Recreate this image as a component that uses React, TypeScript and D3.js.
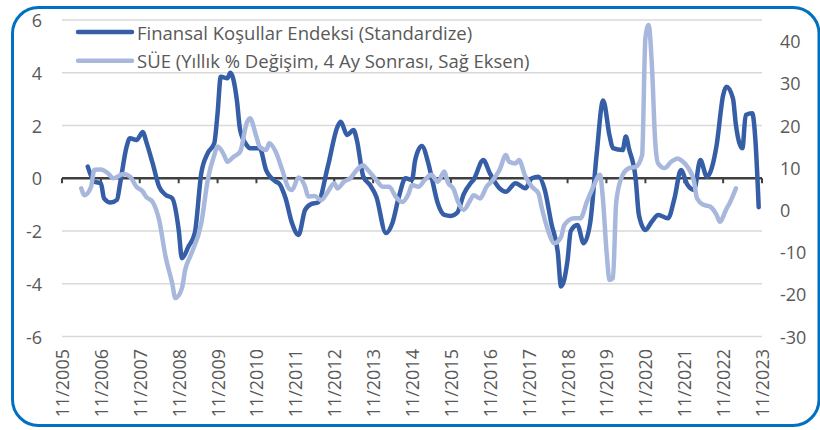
import React from "react";
import * as d3 from "d3";

// Finansal Koşullar Endeksi (left axis), monthly readings
const fkeDates = [
  "2006-07", "2006-09", "2006-11", "2006-12", "2007-02", "2007-04", "2007-05", "2007-07", "2007-08", "2007-10",
  "2007-12", "2008-01", "2008-03", "2008-05", "2008-07", "2008-09", "2008-11", "2008-12", "2009-02", "2009-04",
  "2009-06", "2009-08", "2009-10", "2009-11", "2009-12", "2010-02", "2010-03", "2010-05", "2010-06", "2010-08",
  "2010-09", "2010-12", "2011-02", "2011-03", "2011-05", "2011-06", "2011-08", "2011-10", "2011-12", "2012-02",
  "2012-04", "2012-06", "2012-09", "2012-12", "2013-01", "2013-03", "2013-05", "2013-06", "2013-08", "2013-10",
  "2013-12", "2014-03", "2014-05", "2014-07", "2014-09", "2014-11", "2014-12", "2015-02", "2015-04", "2015-05",
  "2015-07", "2015-09", "2015-11", "2016-01", "2016-03", "2016-05", "2016-06", "2016-09", "2016-11", "2017-02",
  "2017-04", "2017-07", "2017-10", "2017-12", "2018-02", "2018-04", "2018-06", "2018-08", "2018-09", "2018-11",
  "2018-12", "2019-02", "2019-04", "2019-06", "2019-08", "2019-10", "2019-12", "2020-01", "2020-04", "2020-05",
  "2020-06", "2020-08", "2020-09", "2020-11", "2021-01", "2021-03", "2021-06", "2021-08", "2021-10", "2021-12",
  "2022-02", "2022-04", "2022-06", "2022-09", "2022-11", "2022-12", "2023-02", "2023-03", "2023-05", "2023-06",
  "2023-08", "2023-09", "2023-10",
];
const fkeValues = [
  0.44, -0.13, -0.19, -0.76, -0.92, -0.82, -0.19, 1.2, 1.52, 1.45,
  1.75, 1.39, 0.57, -0.32, -0.63, -0.76, -1.96, -3.03, -2.59, -2.08,
  0.19, 0.95, 1.33, 2.46, 3.85, 3.79, 4.0, 2.97, 1.83, 1.26,
  1.14, 1.14, 0.3, 0.1, -0.13, -0.19, -0.75, -1.7, -2.15, -1.2,
  -0.97, -0.92, 0.44, 1.95, 2.14, 1.64, 1.83, 1.45, 0.06, -0.25,
  -0.7, -2.08, -1.7, -0.7, 0.0, -0.06, 0.69, 1.22, 0.6, 0.1,
  -0.95, -1.39, -1.43, -1.3, -0.6, -0.2, -0.06, 0.69, 0.19, -0.38,
  -0.51, -0.19, -0.38, 0.0, 0.06, -0.44, -1.7, -2.8, -4.1, -3.1,
  -2.0, -1.77, -2.46, -1.7, 0.9, 2.95, 1.6, 1.14, 1.07, 1.58,
  1.1, 0.0, -1.39, -1.96, -1.64, -1.39, -1.52, -0.76, 0.31, -0.25,
  -0.44, 0.69, 0.06, 1.26, 3.15, 3.47, 3.03, 2.02, 1.14, 2.4,
  2.46, 1.39, -1.1,
];

// SÜE yıllık % değişim, 4 ay sonrası (right axis)
const sueDates = [
  "2006-05", "2006-06", "2006-08", "2006-09", "2006-11", "2007-01", "2007-03", "2007-06", "2007-08", "2007-10",
  "2007-12", "2008-01", "2008-03", "2008-05", "2008-07", "2008-09", "2008-10", "2008-12", "2009-01", "2009-03",
  "2009-06", "2009-08", "2009-10", "2009-11", "2010-01", "2010-02", "2010-04", "2010-06", "2010-08", "2010-09",
  "2010-11", "2010-12", "2011-02", "2011-03", "2011-05", "2011-07", "2011-09", "2011-10", "2011-12", "2012-02",
  "2012-03", "2012-05", "2012-07", "2012-09", "2012-11", "2012-12", "2013-02", "2013-04", "2013-06", "2013-08",
  "2013-09", "2013-12", "2014-02", "2014-04", "2014-06", "2014-08", "2014-10", "2014-11", "2015-01", "2015-03",
  "2015-05", "2015-07", "2015-09", "2015-10", "2015-12", "2016-01", "2016-03", "2016-05", "2016-06", "2016-08",
  "2016-10", "2016-12", "2017-02", "2017-04", "2017-05", "2017-07", "2017-08", "2017-10", "2017-12", "2018-02",
  "2018-03", "2018-05", "2018-07", "2018-09", "2018-10", "2019-01", "2019-03", "2019-05", "2019-07", "2019-09",
  "2019-10", "2019-11", "2019-12", "2020-01", "2020-02", "2020-04", "2020-06", "2020-08", "2020-10", "2020-11",
  "2020-12", "2021-01", "2021-02", "2021-03", "2021-05", "2021-07", "2021-09", "2021-10", "2021-12", "2022-02",
  "2022-03", "2022-05", "2022-07", "2022-09", "2022-10", "2022-12", "2023-01", "2023-03",
];
const sueValues = [
  5.1, 3.5, 5.5, 9.5, 9.6, 8.8, 7.5, 8.5, 7.9, 5.5,
  4.3, 3.1, 1.9, -2.4, -11.1, -17.4, -20.9, -18.6, -14.2, -10.3,
  -3.2, 7.1, 13.0, 15.0, 13.0, 11.4, 12.6, 13.8, 20.5, 21.7,
  17.3, 15.0, 14.2, 15.8, 13.8, 9.5, 5.1, 4.7, 7.7, 5.5,
  3.2, 3.3, 2.3, 4.3, 6.3, 5.1, 6.7, 7.5, 9.5, 10.6,
  9.8, 7.1, 5.5, 5.5, 3.1, 1.9, 3.9, 5.9, 5.5, 7.1,
  8.3, 6.7, 9.1, 6.7, 4.7, 2.3, 0.0, 2.3, 3.5, 2.7,
  5.5, 7.1, 9.5, 13.0, 11.4, 11.0, 11.8, 7.9, 5.5, 3.9,
  0.8, -4.8, -7.9, -6.4, -3.6, -2.0, -2.0, 1.9, 5.5, 8.3,
  2.0, -9.5, -16.6, -16.2, 1.9, 8.3, 9.9, 10.2, 13.0, 40.7,
  43.8, 34.3, 16.2, 11.0, 9.9, 11.4, 12.2, 11.8, 10.2, 6.7,
  2.7, 1.2, 0.8, -1.2, -2.8, 0.2, 1.6, 5.1,
];

const xTickLabels = [
  "11/2005", "11/2006", "11/2007", "11/2008", "11/2009", "11/2010", "11/2011", "11/2012", "11/2013", "11/2014",
  "11/2015", "11/2016", "11/2017", "11/2018", "11/2019", "11/2020", "11/2021", "11/2022", "11/2023",
];
const leftTicks = [-6, -4, -2, 0, 2, 4, 6];
const rightTicks = [-30, -20, -10, 0, 10, 20, 30, 40];
const legendLabels = [
  "Finansal Koşullar Endeksi (Standardize)",
  "SÜE (Yıllık % Değişim, 4 Ay Sonrası, Sağ Eksen)",
];

const DARK = "#355EA6";
const LIGHT = "#A8B8DD";
const TEXT = "#595959";
const FONT = "'Open Sans', sans-serif";

export default function App() {
  const width = 820;
  const height = 430;
  const m = { left: 62, right: 762, top: 20, bottom: 336.5 };

  const parse = d3.timeParse("%Y-%m");
  const parseTick = d3.timeParse("%m/%Y");

  const x = d3
    .scaleTime()
    .domain([new Date(2005, 10, 1), new Date(2023, 10, 1)])
    .range([m.left, m.right]);
  const yL = d3.scaleLinear().domain([-6, 6]).range([m.bottom, m.top]);
  const yR = d3.scaleLinear().domain([-30, 45]).range([m.bottom, m.top]);

  const fke = fkeDates.map((d, i) => ({ date: parse(d) as Date, value: fkeValues[i] }));
  const sue = sueDates.map((d, i) => ({ date: parse(d) as Date, value: sueValues[i] }));

  const lineL = d3
    .line<{ date: Date; value: number }>()
    .x((d) => x(d.date))
    .y((d) => yL(d.value))
    .curve(d3.curveMonotoneX);
  const lineR = d3
    .line<{ date: Date; value: number }>()
    .x((d) => x(d.date))
    .y((d) => yR(d.value))
    .curve(d3.curveMonotoneX);

  const y0 = yL(0);

  return (
    <svg
      width={width}
      height={height}
      style={{ position: "fixed", left: 0, top: 0, background: "#fff" }}
    >
      <rect x={0} y={0} width={width} height={height} fill="#fff" />
      <rect
        x={12.5}
        y={7.5}
        width={806.5}
        height={418}
        rx={26}
        fill="#fff"
        stroke="#0070C0"
        strokeWidth={3}
      />

      {/* gridlines */}
      {leftTicks
        .filter((t) => t !== 0)
        .map((t) => (
          <line key={t} x1={m.left} x2={m.right} y1={yL(t)} y2={yL(t)} stroke="#D9D9D9" strokeWidth={1.5} />
        ))}

      {/* left axis labels */}
      {leftTicks.map((t) => (
        <text
          key={"l" + t}
          x={42}
          y={yL(t)}
          textAnchor="end"
          dominantBaseline="central"
          fontFamily={FONT}
          fontSize={18}
          fill={TEXT}
        >
          {t}
        </text>
      ))}

      {/* right axis labels */}
      {rightTicks.map((t) => (
        <text
          key={"r" + t}
          x={780}
          y={yR(t)}
          textAnchor="start"
          dominantBaseline="central"
          fontFamily={FONT}
          fontSize={18}
          fill={TEXT}
        >
          {t}
        </text>
      ))}

      {/* zero axis with ticks */}
      <line x1={m.left} x2={m.right} y1={y0} y2={y0} stroke="#404040" strokeWidth={2.5} />
      {xTickLabels.map((lab) => {
        const xp = x(parseTick(lab) as Date);
        return <line key={"t" + lab} x1={xp} x2={xp} y1={y0} y2={y0 + 5} stroke="#404040" strokeWidth={2} />;
      })}

      {/* x labels */}
      {xTickLabels.map((lab) => {
        const xp = x(parseTick(lab) as Date);
        return (
          <text
            key={"x" + lab}
            transform={`translate(${xp},349) rotate(-90)`}
            textAnchor="end"
            dominantBaseline="central"
            fontFamily={FONT}
            fontSize={18}
            fill={TEXT}
          >
            {lab}
          </text>
        );
      })}

      {/* series */}
      <path d={lineL(fke) || ""} fill="none" stroke={DARK} strokeWidth={4.5} strokeLinejoin="round" strokeLinecap="round" />
      <path d={lineR(sue) || ""} fill="none" stroke={LIGHT} strokeWidth={4.5} strokeLinejoin="round" strokeLinecap="round" />

      {/* legend */}
      {legendLabels.map((lab, i) => (
        <g key={lab} transform={`translate(0,${32 + i * 28.7})`}>
          <line x1={78} x2={132} y1={0} y2={0} stroke={i === 0 ? DARK : LIGHT} strokeWidth={4.5} strokeLinecap="round" />
          <text
            x={137}
            y={0}
            dominantBaseline="central"
            fontFamily={FONT}
            fontSize={18.5}
            fill={TEXT}
          >
            {lab}
          </text>
        </g>
      ))}
    </svg>
  );
}
